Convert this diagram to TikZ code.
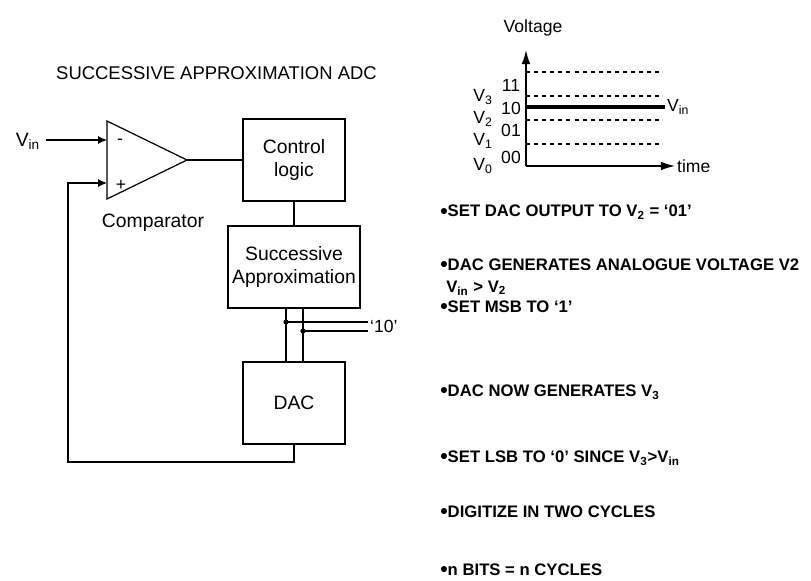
\documentclass[tikz,border=0pt]{standalone}
\usepackage{fontspec}
\setmainfont{Liberation Sans}
\usetikzlibrary{arrows.meta,positioning}
\newcommand{\bul}{\raisebox{-0.9pt}{\fontsize{12}{12}\selectfont\textbullet}}

\begin{document}
\begin{tikzpicture}[x=0.02cm, y=-0.02cm,
    box/.style={rectangle, draw, line width=0.7pt, minimum width=2.04cm, minimum height=1.64cm, align=center, inner sep=1pt, font=\fontsize{11}{13.6}\selectfont},
    wire/.style={line width=0.7pt},
    arrow/.style={-{Latex[length=5pt,width=4.5pt]}, line width=0.7pt},
    axisarrow/.style={-{Latex[length=8pt,width=5pt]}, line width=1pt},
    level/.style={dash pattern=on 2.3pt off 2.3pt, line width=0.6pt},
    lbl/.style={inner sep=1pt, font=\fontsize{10}{12}\selectfont},
    bullettext/.style={anchor=west, align=left, inner sep=0pt, font=\fontsize{9.5}{11.5}\selectfont\bfseries}
]
\useasboundingbox (0,0) rectangle (811,581);

% Title
\node[anchor=west, font=\fontsize{10.5}{12}\selectfont] (title) at (50,73) {SUCCESSIVE APPROXIMATION ADC};

% Comparator
\coordinate (inm) at (107,140);
\coordinate (inp) at (107,183);
\coordinate (cout) at (187,160);
\draw[wire] (107,121) -- (cout) -- (107,199) -- cycle;
\node[lbl] (minus) at (120,142) {-};
\node[lbl] (plus) at (121,185) {+};
\node[font=\fontsize{11}{13}\selectfont] (comp) at (153,223) {Comparator};
\node[font=\fontsize{11}{13}\selectfont] (vin) at (28,141) {V\textsubscript{in}};

% Blocks
\node[box] (ctrl) at (294,160) {Control\\logic};
\node[box, minimum width=2.64cm] (sa) at (294,267) {Successive\\Approximation};
\node[box] (dac) at (294,403) {DAC};

% Connections
\draw[arrow] (vin.east |- inm) -- (inm);
\draw[wire] (cout) -- (ctrl);
\draw[wire] (ctrl) -- (sa);
\coordinate (fb) at (68,462);
\draw[arrow] (dac.south) |- (fb) |- (inp);

% Bit lines
\coordinate (b1) at (286,322);
\coordinate (b0) at (303,331);
\node[lbl, anchor=west] (code) at (368,326) {`10'};
\draw[wire] (sa.south -| b1) -- (dac.north -| b1);
\draw[wire] (sa.south -| b0) -- (dac.north -| b0);
\draw[wire] (b1) -- (code.west |- b1);
\draw[wire] (b0) -- (code.west |- b0);
\fill (b1) circle[radius=1.5pt];
\fill (b0) circle[radius=1.5pt];

% Voltage levels
\coordinate (org) at (526,166);
\coordinate (ytop) at (526,50);
\coordinate (xend) at (675,166);
\foreach \y in {72,96,120,144}
    \draw[level] (526,\y) -- (662,\y);
\draw[line width=1.8pt] (526,107) -- (665,107) coordinate (vinend);
\draw[axisarrow] (org) -- (ytop);
\draw[axisarrow] (org) -- (xend);
\node[lbl] (voltage) at (533,28) {Voltage};
\node[lbl, anchor=west] (time) at (xend) {time};
\node[lbl, anchor=west] (vinlbl) at (vinend) {V\textsubscript{in}};
\foreach \c/\y in {11/85,10/108,01/130,00/157}
    \node[lbl] (c\c) at (511,\y) {\c};
\foreach \i/\y in {3/97,2/119,1/141,0/166}
    \node[lbl] (v\i) at (483,\y) {V\textsubscript{\i}};

% Steps
\node[bullettext] (s1) at (440,212) {\bul SET DAC OUTPUT TO V\textsubscript{2} = `01'};
\node[bullettext] (s2) at (440,265) {\bul DAC GENERATES ANALOGUE VOLTAGE V2};
\node[bullettext] (s2b) at (446,288) {V\textsubscript{in} > V\textsubscript{2}};
\node[bullettext] (s3) at (440,307) {\bul SET MSB TO `1'};
\node[bullettext] (s4) at (440,392) {\bul DAC NOW GENERATES V\textsubscript{3}};
\node[bullettext] (s5) at (440,458) {\bul SET LSB TO `0' SINCE V\textsubscript{3}>V\textsubscript{in}};
\node[bullettext] (s6) at (440,512) {\bul DIGITIZE IN TWO CYCLES};
\node[bullettext] (s7) at (440,570) {\bul n BITS = n CYCLES};
\end{tikzpicture}
\end{document}
